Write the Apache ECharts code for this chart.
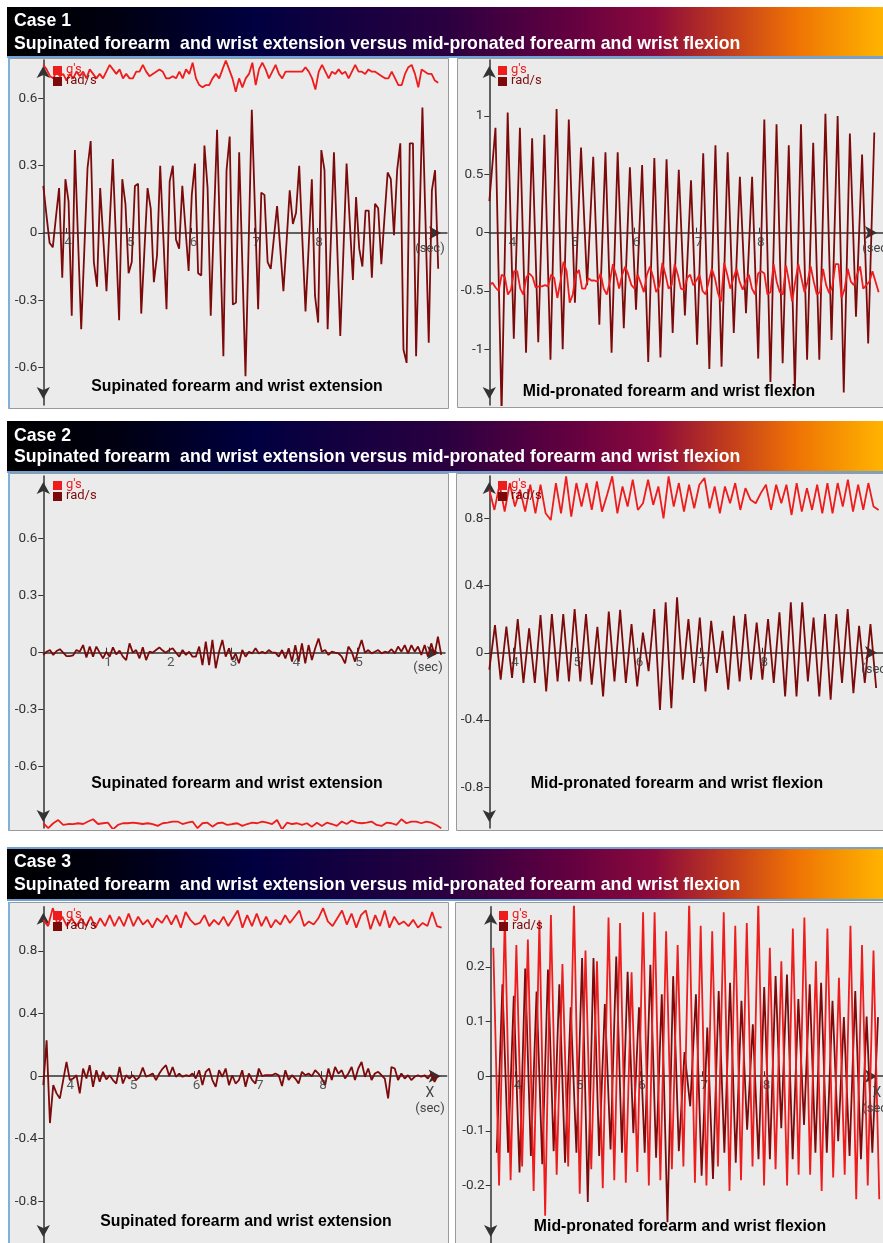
<!DOCTYPE html>
<html><head><meta charset="utf-8">
<script src="https://cdn.jsdelivr.net/npm/echarts@6/dist/echarts.min.js"></script>
<style>html,body{margin:0;padding:0;background:#fff;}#c{width:883px;height:1243px;}</style>
</head><body><div id="c"></div>
<script>
// ---------------- DATA ----------------
const caseTitles = ['Case 1', 'Case 2', 'Case 3'];
const caseSubtitle = 'Supinated forearm  and wrist extension versus mid-pronated forearm and wrist flexion';
const panelTitles = ['Supinated forearm and wrist extension', 'Mid-pronated forearm and wrist flexion'];
const legendNames = ["g's", 'rad/s'];

// Case 1 - left (supinated)
const c1L_xTicks = [4, 5, 6, 7, 8];
const c1L_yTicks = [-0.6, -0.3, 0, 0.3, 0.6];
const c1L_time = [3.638, 9.93];
const c1L_rad = [0.21,0.08,-0.045,-0.064,0.07,0.20,-0.20,0.24,0.14,-0.37,0.37,-0.03,-0.43,-0.07,0.29,0.41,-0.13,-0.24,0.20,-0.03,-0.26,0.04,0.33,-0.03,-0.39,0.24,0.13,-0.18,-0.13,0.21,0.22,-0.36,-0.08,0.20,0.11,-0.22,-0.10,0.30,-0.02,-0.34,0.23,0.30,-0.03,-0.07,0.21,0.02,-0.17,0.17,0.31,-0.18,-0.19,0.39,0.20,-0.37,0.05,0.46,-0.05,-0.55,0.28,0.43,-0.32,-0.31,0.36,-0.14,-0.64,-0.05,0.55,0.10,-0.34,0.18,0.17,-0.13,-0.16,-0.02,0.12,-0.07,-0.26,-0.04,0.19,0.04,0.09,0.30,-0.03,-0.35,-0.06,0.24,-0.28,-0.40,0.37,0.28,-0.43,-0.04,0.36,-0.05,-0.46,-0.08,0.31,0.05,-0.21,0.16,-0.07,-0.15,0.10,0.10,-0.20,0.13,0.11,-0.14,0.07,0.27,0.24,-0.01,0.28,0.40,-0.52,-0.58,0.40,0.40,-0.55,0.00,0.56,0.04,-0.49,0.19,0.28,-0.16];
const c1L_g = [0.75,0.73,0.70,0.69,0.72,0.70,0.71,0.68,0.71,0.69,0.72,0.70,0.72,0.69,0.73,0.71,0.69,0.71,0.69,0.72,0.75,0.73,0.71,0.73,0.69,0.71,0.69,0.69,0.72,0.72,0.75,0.72,0.70,0.71,0.72,0.73,0.72,0.69,0.69,0.70,0.69,0.72,0.69,0.73,0.71,0.76,0.69,0.66,0.65,0.66,0.66,0.69,0.71,0.69,0.73,0.77,0.73,0.69,0.63,0.69,0.65,0.69,0.71,0.76,0.66,0.73,0.76,0.73,0.69,0.72,0.75,0.71,0.69,0.72,0.72,0.72,0.72,0.72,0.72,0.74,0.72,0.69,0.64,0.72,0.75,0.72,0.69,0.72,0.71,0.73,0.71,0.72,0.69,0.72,0.75,0.72,0.72,0.71,0.73,0.72,0.72,0.71,0.70,0.69,0.69,0.72,0.69,0.66,0.66,0.71,0.74,0.75,0.71,0.65,0.73,0.72,0.71,0.71,0.68,0.67];

// Case 1 - right (mid-pronated)
const c1R_xTicks = [4, 5, 6, 7, 8];
const c1R_yTicks = [-1, -0.5, 0, 0.5, 1];
const c1R_radTime = [3.66, 9.86];
const c1R_rad = [0.27,0.90,-1.55,1.03,-0.91,0.90,-1.03,0.81,-0.94,0.84,-1.09,1.06,-1.00,0.97,-0.60,0.73,-0.45,0.65,-0.79,0.69,-1.03,0.69,-0.82,0.56,-0.66,0.58,-1.11,0.64,-1.07,0.63,-0.86,0.54,-0.71,0.45,-0.96,0.68,-1.17,0.75,-1.15,0.69,-0.86,0.48,-0.69,0.48,-1.08,0.97,-1.28,0.93,-1.12,0.75,-1.35,0.93,-1.09,0.77,-1.09,1.02,-0.92,1.00,-1.37,0.85,-0.72,0.67,-0.95,0.86];
const c1R_gTime = [3.66, 9.93];
const c1R_g = [-0.45,-0.43,-0.47,-0.50,-0.36,-0.38,-0.53,-0.49,-0.33,-0.33,-0.48,-0.53,-0.38,-0.35,-0.38,-0.47,-0.46,-0.46,-0.45,-0.46,-0.36,-0.39,-0.56,-0.42,-0.25,-0.33,-0.60,-0.53,-0.36,-0.32,-0.48,-0.48,-0.39,-0.41,-0.41,-0.42,-0.35,-0.48,-0.53,-0.42,-0.27,-0.36,-0.48,-0.36,-0.29,-0.36,-0.45,-0.48,-0.36,-0.43,-0.51,-0.36,-0.29,-0.38,-0.51,-0.46,-0.26,-0.36,-0.48,-0.45,-0.27,-0.36,-0.48,-0.49,-0.39,-0.36,-0.45,-0.41,-0.36,-0.50,-0.53,-0.42,-0.31,-0.39,-0.52,-0.59,-0.26,-0.36,-0.48,-0.39,-0.31,-0.42,-0.49,-0.42,-0.36,-0.48,-0.53,-0.35,-0.33,-0.35,-0.53,-0.51,-0.27,-0.42,-0.51,-0.53,-0.28,-0.42,-0.59,-0.42,-0.27,-0.39,-0.51,-0.42,-0.29,-0.42,-0.53,-0.51,-0.31,-0.45,-0.52,-0.46,-0.27,-0.27,-0.56,-0.48,-0.31,-0.42,-0.45,-0.36,-0.29,-0.48,-0.45,-0.42,-0.33,-0.42,-0.51];

// Case 2 - left
const c2L_xTicks = [1, 2, 3, 4, 5];
const c2L_yTicks = [-0.6, -0.3, 0, 0.3, 0.6];
const c2L_time = [0.0, 6.34];
const c2L_rad = [-0.012,0.005,0.014,-0.012,0.009,0.018,0,-0.018,-0.018,-0.014,0.014,0.005,0.04,-0.025,0.032,-0.021,0.032,0,-0.03,0.005,-0.021,0.028,-0.009,0.011,-0.021,-0.039,0.049,0,0.014,-0.03,0.028,-0.039,0.005,0,0.014,0.028,0.011,0,0.014,0.023,0,-0.021,0.014,-0.012,0.005,-0.021,-0.021,0.032,-0.065,0.058,-0.065,0.067,-0.082,0.005,0.067,-0.021,0.023,-0.039,-0.004,-0.056,0.014,-0.021,0.005,-0.004,0.023,-0.004,0.005,-0.004,0.014,0,0,-0.021,0.014,-0.03,0.023,-0.047,0.04,-0.047,0.049,-0.056,0.04,-0.039,0.023,0.075,0.005,0.014,-0.012,0.005,0,-0.004,-0.021,-0.056,0.032,0.005,-0.047,0.014,0.067,0,0.014,-0.004,0.005,0.014,-0.004,0.005,0,0.018,-0.004,0.032,0.005,0.04,-0.004,0.04,0.005,0.032,-0.012,0.04,-0.021,0.049,-0.012,0.084,-0.012];
const c2L_g = [-0.898,-0.924,-0.898,-0.881,-0.907,-0.902,-0.903,-0.898,-0.902,-0.889,-0.877,-0.902,-0.898,-0.895,-0.93,-0.907,-0.898,-0.898,-0.895,-0.898,-0.902,-0.898,-0.903,-0.912,-0.898,-0.895,-0.889,-0.889,-0.902,-0.895,-0.889,-0.924,-0.898,-0.895,-0.916,-0.898,-0.895,-0.907,-0.902,-0.898,-0.912,-0.902,-0.895,-0.898,-0.889,-0.895,-0.902,-0.881,-0.93,-0.895,-0.902,-0.898,-0.907,-0.898,-0.916,-0.895,-0.912,-0.895,-0.902,-0.912,-0.889,-0.902,-0.884,-0.895,-0.898,-0.895,-0.889,-0.907,-0.912,-0.895,-0.898,-0.907,-0.877,-0.898,-0.889,-0.889,-0.898,-0.889,-0.895,-0.907,-0.924];

// Case 2 - right
const c2R_xTicks = [4, 5, 6, 7, 8];
const c2R_yTicks = [-0.8, -0.4, 0, 0.4, 0.8];
const c2R_radTime = [3.618, 9.83];
const c2R_rad = [-0.10,0.165,-0.16,0.155,-0.15,0.20,-0.18,0.145,-0.18,0.225,-0.23,0.23,-0.17,0.23,-0.17,0.26,-0.17,0.23,-0.19,0.155,-0.26,0.245,-0.17,0.255,-0.18,0.17,-0.20,0.12,-0.11,0.26,-0.34,0.30,-0.33,0.33,-0.16,0.20,-0.18,0.21,-0.23,0.19,-0.12,0.13,-0.22,0.22,-0.17,0.23,-0.16,0.18,-0.16,0.20,-0.18,0.24,-0.26,0.30,-0.26,0.30,-0.17,0.21,-0.26,0.23,-0.28,0.23,-0.18,0.26,-0.24,0.16,-0.18,0.17,-0.21];
const c2R_gTime = [3.618, 9.87];
const c2R_g = [0.97,0.85,1.00,0.84,1.01,0.87,0.97,0.84,1.00,0.83,1.00,0.83,0.79,1.01,0.83,1.05,0.81,1.01,0.87,1.01,0.85,1.02,0.84,0.94,1.05,0.83,0.99,0.87,1.03,0.85,0.89,1.03,0.88,0.99,0.80,1.05,0.87,1.01,0.84,1.00,0.86,1.00,1.04,0.86,0.99,0.83,0.99,0.89,1.01,0.85,0.98,0.91,0.89,0.95,1.00,0.85,1.00,0.89,1.00,0.82,1.01,0.84,0.98,0.85,1.00,0.83,1.01,0.83,1.01,0.87,1.03,0.84,1.00,0.85,1.01,0.87,0.85];

// Case 3 - left
const c3L_xTicks = [4, 5, 6, 7, 8];
const c3L_yTicks = [-0.8, -0.4, 0, 0.4, 0.8];
const c3L_radTime = [3.604, 9.85];
const c3L_rad = [-0.057,0.229,-0.30,-0.057,-0.11,-0.142,-0.025,0.091,-0.025,-0.015,0.006,-0.11,0.049,-0.015,0.07,-0.068,0.038,-0.036,0.028,-0.021,0.006,-0.025,-0.047,0.059,-0.047,0.006,-0.015,0.006,-0.025,-0.004,0.055,-0.004,0.006,0.017,-0.025,0.017,0.049,0.07,0,0.059,-0.004,0.017,-0.004,0.006,0,0.017,-0.015,0.038,-0.057,0.028,0.049,-0.025,-0.068,0.038,-0.004,0.049,-0.057,0.006,-0.047,-0.025,0.038,-0.068,0.017,-0.025,-0.047,0.049,0,0.006,0.006,0.006,0.017,0.006,-0.063,0.038,-0.025,0.006,-0.015,-0.047,0.028,0.006,0.017,0,0.038,0.017,-0.015,-0.057,0.049,-0.025,0.059,0.017,0.038,-0.015,0.017,0.059,-0.025,0.049,0.091,-0.004,0.049,-0.025,0.017,0.028,0.006,-0.015,-0.142,0.059,0.049,-0.025,0.017,-0.015,0.006,-0.025,-0.004,0.006,-0.004,0.006,-0.015,0.017,-0.036,0.006];
const c3L_gTime = [3.604, 9.91];
const c3L_g = [1.00,0.96,1.075,0.97,1.02,0.96,1.01,0.96,1.01,0.96,1.02,0.95,1.01,0.96,1.03,0.96,1.02,0.96,1.04,0.96,1.02,0.97,1.00,0.95,1.01,0.98,1.03,0.97,1.03,0.95,1.05,1.00,0.97,0.98,1.03,0.96,1.00,0.97,1.02,0.96,1.01,1.06,0.95,1.03,0.96,1.04,0.96,1.02,0.95,1.00,0.97,1.03,0.98,1.02,1.06,0.96,0.99,0.97,1.01,1.075,0.99,0.96,1.01,1.06,0.97,1.04,0.95,1.03,1.06,0.94,1.03,0.96,1.06,0.95,1.02,0.97,0.99,0.96,1.00,0.95,0.98,0.96,1.05,0.96,0.95];

// Case 3 - right
const c3R_xTicks = [4, 5, 6, 7, 8];
const c3R_yTicks = [-0.2, -0.1, 0, 0.1, 0.2];
const c3R_gTime = [3.645, 9.84];
const c3R_g = [0.235,-0.20,0.295,-0.19,0.24,-0.165,0.25,-0.21,0.285,-0.255,0.295,-0.18,0.205,-0.165,0.32,-0.215,0.23,-0.17,0.21,-0.205,0.29,-0.19,0.28,-0.195,0.19,-0.175,0.30,-0.20,0.30,-0.19,0.265,-0.17,0.24,-0.165,0.32,-0.195,0.275,-0.20,0.265,-0.165,0.30,-0.21,0.275,-0.19,0.28,-0.165,0.32,-0.20,0.235,-0.17,0.21,-0.20,0.27,-0.18,0.29,-0.18,0.21,-0.21,0.27,-0.185,0.18,-0.18,0.275,-0.225,0.24,-0.20,0.23,-0.225];
const c3R_radTime = [3.70, 9.82];
const c3R_rad = [-0.14,0.168,-0.14,0.147,-0.176,0.197,-0.146,0.155,-0.161,0.195,-0.137,0.168,-0.158,0.126,-0.14,0.216,-0.23,0.216,-0.146,0.132,-0.134,0.219,-0.14,0.191,-0.104,0.126,-0.14,0.204,-0.149,0.15,-0.267,0.183,-0.137,0.044,-0.055,0.15,-0.182,0.089,-0.188,0.156,-0.14,0.171,-0.158,0.138,-0.098,0.095,-0.152,0.163,-0.152,0.183,-0.095,0.186,-0.152,0.141,-0.089,0.168,-0.14,0.171,-0.14,0.138,-0.119,0.108,-0.146,0.156,-0.152,0.109,-0.14,0.108];

// ---------------- BUILD ----------------
function pts(vals, tr) {
  const n = vals.length;
  return vals.map((v, i) => [tr[0] + (tr[1] - tr[0]) * i / (n - 1), v]);
}

const RED = '#ee1c1c', DARK = '#7d0a0a', AX = '#333333';

const panels = [
  {grid:{left:43.3, top:60, width:403.7, height:345}, x:[3.638,10.07], y:[-0.768,0.772], xt:c1L_xTicks, yt:c1L_yTicks, rad:pts(c1L_rad,c1L_time), g:pts(c1L_g,c1L_time)},
  {grid:{left:489.3, top:60, width:397.7, height:345}, x:[3.659,10.0], y:[-1.478,1.481], xt:c1R_xTicks, yt:c1R_yTicks, rad:pts(c1R_rad,c1R_radTime), g:pts(c1R_g,c1R_gTime)},
  {grid:{left:43.3, top:476, width:401.7, height:352}, x:[0.0,6.40], y:[-0.923,0.93], xt:c2L_xTicks, yt:c2L_yTicks, rad:pts(c2L_rad,c2L_time), g:pts(c2L_g,c2L_time)},
  {grid:{left:489.3, top:476, width:397.7, height:352}, x:[3.618,9.94], y:[-1.043,1.052], xt:c2R_xTicks, yt:c2R_yTicks, rad:pts(c2R_rad,c2R_radTime), g:pts(c2R_g,c2R_gTime)},
  {grid:{left:43.3, top:906.7, width:403.4, height:339.3}, x:[3.604,9.99], y:[-1.067,1.084], xt:c3L_xTicks, yt:c3L_yTicks, rad:pts(c3L_rad,c3L_radTime), g:pts(c3L_g,c3L_gTime)},
  {grid:{left:490.7, top:906.7, width:396.3, height:339.3}, x:[3.603,9.90], y:[-0.305,0.310], xt:c3R_xTicks, yt:c3R_yTicks, rad:pts(c3R_rad,c3R_radTime), g:pts(c3R_g,c3R_gTime)}
];

const grid = [], xAxis = [], yAxis = [], series = [];
panels.forEach((p, i) => {
  grid.push(Object.assign({containLabel:false}, p.grid));
  xAxis.push({
    type:'value', gridIndex:i, min:p.x[0], max:p.x[1],
    axisLine:{onZero:true, symbol:['none','arrow'], symbolSize:[10,12], symbolOffset:[0,-6], lineStyle:{color:AX, width:1.5}},
    axisTick:{customValues:p.xt, inside:true, length:5, lineStyle:{color:AX, width:1}},
    axisLabel:{show:false},
    splitLine:{show:false}
  });
  yAxis.push({
    type:'value', gridIndex:i, min:p.y[0], max:p.y[1],
    axisLine:{show:true, onZero:false, symbol:['arrow','arrow'], symbolSize:[10,12], symbolOffset:[6,-6], lineStyle:{color:AX, width:1.5}},
    axisTick:{show:true, customValues:p.yt, length:5, lineStyle:{color:AX, width:1}},
    axisLabel:{customValues:p.yt, color:'#333', fontSize:13.5, fontFamily:'Roboto', margin:6},
    splitLine:{show:false}
  });
  series.push({type:'line', name:legendNames[1], xAxisIndex:i, yAxisIndex:i, data:p.rad, symbol:'none', lineStyle:{color:DARK, width:1.8}, clip:true, z:3});
  series.push({type:'line', name:legendNames[0], xAxisIndex:i, yAxisIndex:i, data:p.g, symbol:'none', lineStyle:{color:RED, width:1.8}, clip:true, z:4});
  // x tick labels placed on the zero line (axis crosses at y = 0)
  series.push({type:'scatter', xAxisIndex:i, yAxisIndex:i, data:p.xt.map(v => [v, 0]), symbol:'circle', symbolSize:1,
    itemStyle:{color:'rgba(0,0,0,0)'}, silent:true, z:5,
    label:{show:true, position:'bottom', distance:2, offset:[2,0], formatter:d => String(d.value[0]), color:'#333', fontSize:13.5, fontFamily:'Roboto'}});
});

// ---------------- DECORATION ----------------
const graphics = [];
const grad = () => new echarts.graphic.LinearGradient(0,0,1,0,[
  {offset:0, color:'#000000'},
  {offset:0.12, color:'#000010'},
  {offset:0.28, color:'#000040'},
  {offset:0.5, color:'#2a0040'},
  {offset:0.64, color:'#620040'},
  {offset:0.74, color:'#8c0a3c'},
  {offset:0.82, color:'#c03a1e'},
  {offset:0.9, color:'#ee7205'},
  {offset:1, color:'#ffb400'}
]);
const TFONT = 'bold 17.7px "Liberation Sans", Arial, sans-serif';
const banners = [{y:7, h:50, t1:21, t2:44}, {y:421, h:51, t1:436, t2:457}, {y:848, h:52, t1:862, t2:885}];
banners.forEach((b, i) => {
  graphics.push({type:'rect', shape:{x:7, y:b.y, width:876, height:b.h}, style:{fill:grad()}, z:-5});
  graphics.push({type:'rect', shape:{x:7, y:b.y + b.h - 1, width:876, height:2}, style:{fill:'#6fa3d6'}, z:-4});
  if (i === 2) graphics.push({type:'rect', shape:{x:7, y:b.y - 1, width:876, height:2}, style:{fill:'#6fa3d6'}, z:-4});
  graphics.push({type:'text', x:14, y:b.t1, style:{text:caseTitles[i], fill:'#fff', font:TFONT, textVerticalAlign:'middle'}, z:20});
  graphics.push({type:'text', x:14, y:b.t2, style:{text:caseSubtitle, fill:'#fff', font:TFONT, textVerticalAlign:'middle'}, z:20});
});

const PFONT = 'bold 15.8px "Liberation Sans", Arial, sans-serif';
const boxes = [
  {x:8, y:58, w:440, h:350, left:true, title:0, tx:237, ty:387, sec:[430,249], X:false, lg:[53,66]},
  {x:457, y:58, w:430, h:349, left:false, title:1, tx:669, ty:392, sec:[877,249], X:false, lg:[498,66]},
  {x:8, y:473, w:440, h:357, left:true, title:0, tx:237, ty:784, sec:[428,668], X:false, lg:[53,481]},
  {x:456, y:473, w:430, h:357, left:false, title:1, tx:677, ty:784, sec:[876,670], X:false, lg:[498,481]},
  {x:8, y:902, w:440, h:345, left:true, title:0, tx:246, ty:1222, sec:[430,1109], X:[430,1093], lg:[53,911]},
  {x:455, y:902, w:432, h:345, left:false, title:1, tx:680, ty:1227, sec:[877,1109], X:[877,1093], lg:[499,911]}
];
boxes.forEach(b => {
  graphics.push({type:'rect', shape:{x:b.x + 0.5, y:b.y + 0.5, width:b.w, height:b.h}, style:{fill:'#ebebeb', stroke:'#9a9a9a', lineWidth:1}, z:-10});
  if (b.left) graphics.push({type:'rect', shape:{x:b.x, y:b.y, width:2, height:b.h}, style:{fill:'#7fb0dc'}, z:-9});
  graphics.push({type:'text', x:b.tx, y:b.ty, style:{text:panelTitles[b.title], fill:'#000', font:PFONT, textAlign:'center', textVerticalAlign:'middle'}, z:20});
  graphics.push({type:'text', x:b.sec[0], y:b.sec[1], style:{text:'(sec)', fill:'#444', font:'13px Roboto, sans-serif', textAlign:'center', textVerticalAlign:'middle'}, z:20});
  if (b.X) graphics.push({type:'text', x:b.X[0], y:b.X[1], style:{text:'X', fill:'#444', font:'14px Roboto, sans-serif', textAlign:'center', textVerticalAlign:'middle'}, z:20});
  graphics.push({type:'rect', shape:{x:b.lg[0], y:b.lg[1], width:9, height:9}, style:{fill:RED}, z:20});
  graphics.push({type:'rect', shape:{x:b.lg[0], y:b.lg[1] + 11, width:9, height:9}, style:{fill:DARK}, z:20});
  graphics.push({type:'text', x:b.lg[0] + 13, y:b.lg[1] + 4, style:{text:legendNames[0], fill:RED, font:'13px Roboto, sans-serif', textVerticalAlign:'middle'}, z:20});
  graphics.push({type:'text', x:b.lg[0] + 13, y:b.lg[1] + 15, style:{text:legendNames[1], fill:DARK, font:'13px Roboto, sans-serif', textVerticalAlign:'middle'}, z:20});
});

const chart = echarts.init(document.getElementById('c'), null, {renderer:'canvas', width:883, height:1243});
chart.setOption({
  backgroundColor:'#ffffff',
  animation:false,
  grid, xAxis, yAxis, series,
  graphic:{elements:graphics}
});
</script></body></html>
